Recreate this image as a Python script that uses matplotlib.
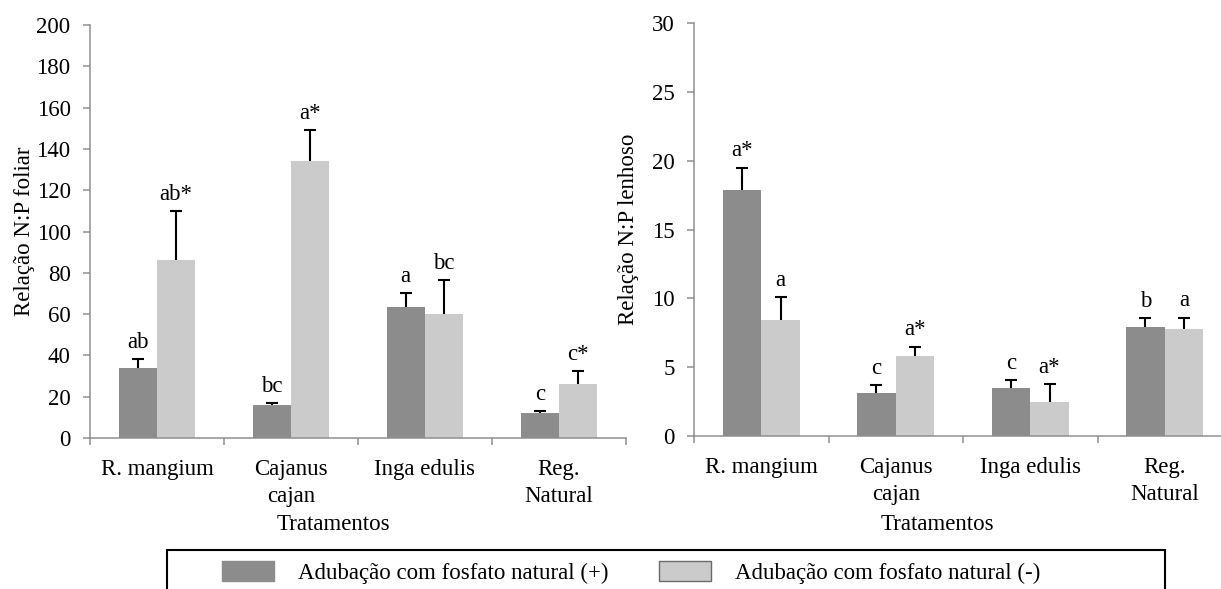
import numpy as np
import matplotlib
matplotlib.use("Agg")
import matplotlib.pyplot as plt
import matplotlib.patches as mpatches

plt.rcParams['font.family'] = ['Liberation Serif', 'DejaVu Serif']
plt.rcParams['font.size'] = 16.5

categories = ['R. mangium', 'Cajanus\ncajan', 'Inga edulis', 'Reg.\nNatural']

# relacao N:P foliar
foliar_com = [33.7, 16.0, 63.6, 11.9]
foliar_com_err = [4.4, 1.1, 6.6, 1.2]
foliar_sem = [86.3, 133.9, 59.9, 26.2]
foliar_sem_err = [23.7, 15.3, 16.7, 6.3]
foliar_com_lab = ['ab', 'bc', 'a', 'c']
foliar_sem_lab = ['ab*', 'a*', 'bc', 'c*']

# relacao N:P lenhoso
lenhoso_com = [17.9, 3.1, 3.5, 7.9]
lenhoso_com_err = [1.6, 0.6, 0.55, 0.65]
lenhoso_sem = [8.4, 5.8, 2.5, 7.8]
lenhoso_sem_err = [1.7, 0.7, 1.3, 0.8]
lenhoso_com_lab = ['a*', 'c', 'c', 'b']
lenhoso_sem_lab = ['a', 'a*', 'a*', 'a']

legend_labels = ['Adubação com fosfato natural (+)', 'Adubação com fosfato natural (-)']

DARK = '#8c8c8c'
LIGHT = '#cbcbcb'
GRAY = '#8f8f8f'
W, H = 1221, 589


def draw(ax, com, com_err, sem, sem_err, lab_com, lab_sem, ymax, ystep, ylabel):
	x = np.arange(len(categories))
	w = 0.287
	ekw = dict(ecolor='black', elinewidth=1.5, capsize=4, capthick=1.5)
	for xs, vals, errs, labs, col in [(x - w/2, com, com_err, lab_com, DARK),
									  (x + w/2, sem, sem_err, lab_sem, LIGHT)]:
		bc = ax.bar(xs, vals, w, color=col, yerr=[np.zeros(len(vals)), errs], error_kw=ekw)
		# only the upper cap, like the original
		bc.errorbar.lines[1][0].set_visible(False)
		for xi, v, e, lab in zip(xs, vals, errs, labs):
			ax.annotate(lab, (xi, v + e), xytext=(0, 8), textcoords='offset points',
						ha='center', va='baseline')
	ax.set_xlim(-0.5, len(categories) - 0.5)
	ax.set_ylim(0, ymax)
	ax.set_yticks(np.arange(0, ymax + 1, ystep))
	ax.set_xticks(np.arange(-0.5, len(categories), 1))
	ax.set_xticklabels([])
	ax.set_xticks(x, minor=True)
	ax.set_xticklabels(categories, minor=True)
	for t in ax.get_xticklabels(minor=True):
		t.set_linespacing(1.4)
	ax.tick_params(axis='x', which='major', length=5, width=1.1, color=GRAY)
	ax.tick_params(axis='x', which='minor', length=0, pad=15)
	ax.tick_params(axis='y', length=5, width=1.1, color=GRAY, pad=9)
	for s in ['top', 'right']:
		ax.spines[s].set_visible(False)
	for s in ['left', 'bottom']:
		ax.spines[s].set_color(GRAY)
		ax.spines[s].set_linewidth(1.1)
	ax.set_ylabel(ylabel)
	ax.set_xlabel('Tratamentos')


fig = plt.figure(figsize=(W/100, H/100), dpi=100)
ax1 = fig.add_axes([90/W, 1 - 438/H, 536/W, 413/H])
ax2 = fig.add_axes([694/W, 1 - 436/H, 538/W, 413/H])

draw(ax1, foliar_com, foliar_com_err, foliar_sem, foliar_sem_err,
	 foliar_com_lab, foliar_sem_lab, 200, 20, 'Relação N:P foliar')
draw(ax2, lenhoso_com, lenhoso_com_err, lenhoso_sem, lenhoso_sem_err,
	 lenhoso_com_lab, lenhoso_sem_lab, 30, 5, 'Relação N:P lenhoso')

ax1.yaxis.set_label_coords(-0.102, 0.5)
ax2.yaxis.set_label_coords(-0.103, 0.5)
ax1.xaxis.set_label_coords(0.455, -0.184)
ax2.xaxis.set_label_coords(0.453, -0.189)

# legend box (runs past the bottom edge like the original)
fig.add_artist(mpatches.Rectangle((167/W, -0.05), (1165 - 167)/W, (1 - 550/H) + 0.05,
								  transform=fig.transFigure, fill=False,
								  edgecolor='black', linewidth=1.5))
handles = [mpatches.Patch(facecolor=DARK, edgecolor=DARK),
		   mpatches.Patch(facecolor=LIGHT, edgecolor='#6a6a6a', linewidth=1)]
fig.legend(handles, legend_labels, loc='center left', bbox_to_anchor=(222/W, 1 - 572.5/H),
		   ncol=2, frameon=False, borderpad=0, borderaxespad=0,
		   handlelength=2.26, handleheight=1.0, handletextpad=1.05, columnspacing=2.2)

fig.savefig('out.png', dpi=100)
